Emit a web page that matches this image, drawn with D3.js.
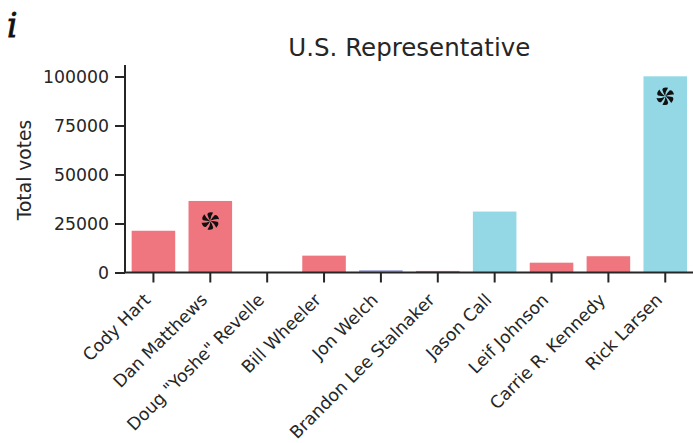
<!DOCTYPE html>
<html>
<head>
<meta charset="utf-8">
<script src="https://cdn.jsdelivr.net/npm/d3@7"></script>
<style>
  html, body { margin: 0; padding: 0; background: #fff; }
  svg { display: block; font-family: "DejaVu Sans", sans-serif; }
</style>
</head>
<body>
<svg id="chart" width="693" height="443"></svg>
<script>
// Candidates for U.S. Representative and their vote totals
const candidates = ["Cody Hart", "Dan Matthews", "Doug \"Yoshe\" Revelle", "Bill Wheeler",
  "Jon Welch", "Brandon Lee Stalnaker", "Jason Call", "Leif Johnson",
  "Carrie R. Kennedy", "Rick Larsen"];
const votes = [21300, 36500, 0, 8600, 1200, 800, 31100, 5000, 8300, 100100];
const parties = ["R", "R", "R", "R", "O", "R", "D", "R", "R", "D"];
// candidates advancing to the general election
const advancing = ["Dan Matthews", "Rick Larsen"];
const yTicks = [0, 25000, 50000, 75000, 100000];

const partyColor = { R: "#ef767e", D: "#94d8e6", O: "#a4a9d6" };

const svg = d3.select("#chart");
const plotLeft = 125, plotRight = 693.7, plotTop = 65, plotBottom = 272.5;
const tickFont = 17.3;
const tickLen = 10;

const x = d3.scaleBand().domain(candidates).range([plotLeft, plotRight])
  .paddingInner(0.234).paddingOuter(0.117);
const y = d3.scaleLinear().domain([0, 100000]).range([plotBottom, 76.5]);

// bars
svg.append("g").selectAll("rect").data(candidates).join("rect")
  .attr("x", d => x(d))
  .attr("width", x.bandwidth())
  .attr("y", (d, i) => y(votes[i]))
  .attr("height", (d, i) => y(0) - y(votes[i]))
  .attr("fill", (d, i) => partyColor[parties[i]]);

// six-bladed pinwheel marker
function pinwheel(r) {
  const p = d3.path();
  const pt = (rad, ang) => [rad * Math.cos(ang), rad * Math.sin(ang)];
  for (let k = 0; k < 6; k++) {
    const a = k * Math.PI / 3 - Math.PI / 2;
    const [x1, y1] = pt(r * 0.05, a - 0.35);
    const [cx1, cy1] = pt(r * 0.55, a + 0.05);
    const [x2, y2] = pt(r, a + 0.32);
    const [cx2, cy2] = pt(r * 1.1, a - 0.25);
    const [x3, y3] = pt(r * 0.8, a - 0.42);
    const [cx3, cy3] = pt(r * 0.45, a - 0.55);
    p.moveTo(0, 0);
    p.lineTo(x1, y1);
    p.quadraticCurveTo(cx1, cy1, x2, y2);
    p.quadraticCurveTo(cx2, cy2, x3, y3);
    p.quadraticCurveTo(cx3, cy3, 0, 0);
    p.closePath();
  }
  return p.toString();
}

svg.append("g").selectAll("path").data(advancing).join("path")
  .attr("transform", d => `translate(${x(d) + x.bandwidth() / 2},${y(votes[candidates.indexOf(d)]) + 20})`)
  .attr("d", pinwheel(9))
  .attr("fill", "#111");

// y axis
const yAxis = svg.append("g").attr("transform", `translate(${plotLeft},0)`)
  .call(d3.axisLeft(y).tickValues(yTicks).tickFormat(d3.format("d")).tickSize(tickLen).tickPadding(6));
yAxis.select(".domain").attr("d", `M0,${plotTop}V${plotBottom}`);

// x axis
const xAxis = svg.append("g").attr("transform", `translate(0,${plotBottom})`)
  .call(d3.axisBottom(x).tickSize(tickLen));
xAxis.select(".domain").attr("d", `M${plotLeft},0H${plotRight}`);
xAxis.selectAll(".tick text")
  .attr("text-anchor", "end")
  .attr("x", 0).attr("y", 0).attr("dy", 0)
  .attr("transform", "translate(-2,28.5) rotate(-45)");

svg.selectAll(".domain").attr("stroke", "#262626").attr("stroke-width", 2);
svg.selectAll(".tick line").attr("stroke", "#262626").attr("stroke-width", 2);
svg.selectAll(".tick text").attr("fill", "#262626").attr("font-size", tickFont)
  .attr("font-family", "DejaVu Sans, sans-serif");

// title and axis label
svg.append("text").attr("x", (plotLeft + plotRight) / 2).attr("y", 56)
  .attr("text-anchor", "middle").attr("font-size", 24.5).attr("fill", "#262626")
  .text("U.S. Representative");
svg.append("text").attr("transform", `translate(31,170) rotate(-90)`)
  .attr("text-anchor", "middle").attr("font-size", 18.7).attr("fill", "#262626")
  .text("Total votes");

// panel letter
svg.append("text").attr("x", 7).attr("y", 37)
  .attr("font-family", "DejaVu Serif, serif").attr("font-style", "italic")
  .attr("font-size", 33).attr("fill", "#111")
  .attr("stroke", "#111").attr("stroke-width", 0.8)
  .text("i");
</script>
</body>
</html>
